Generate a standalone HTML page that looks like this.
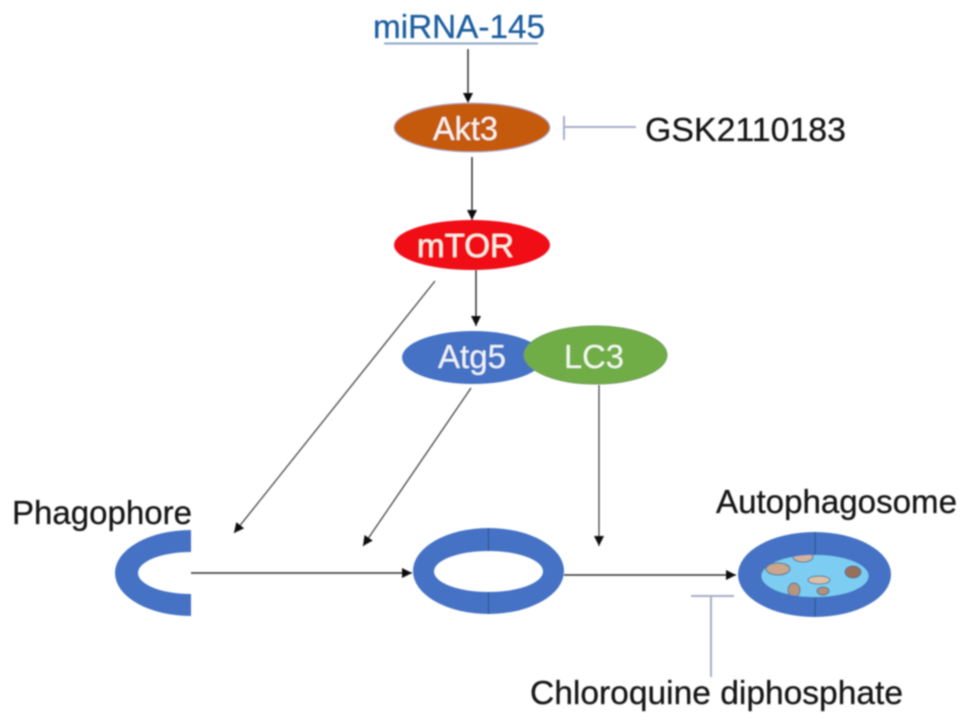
<!DOCTYPE html>
<html>
<head>
<meta charset="utf-8">
<style>
html,body{margin:0;padding:0;background:#fff;width:969px;height:724px;overflow:hidden}
svg{display:block}
text{font-family:"Liberation Sans",sans-serif;font-size:33px;fill:#151515;stroke:#151515;stroke-width:.3px}
</style>
</head>
<body>
<svg width="969" height="724" viewBox="0 0 969 724" xmlns="http://www.w3.org/2000/svg">
<defs>
<marker id="a" markerUnits="userSpaceOnUse" markerWidth="11" markerHeight="10" refX="10" refY="5" orient="auto">
<path d="M0 0L10 5L0 10z" fill="#111"/>
</marker>
<clipPath id="cl"><ellipse cx="815" cy="576" rx="53.500" ry="21"/></clipPath>
<filter id="b" x="-5%" y="-5%" width="110%" height="110%"><feGaussianBlur stdDeviation="0.7"/></filter>
</defs>
<g filter="url(#b)">
<!-- top text -->
<text x="373" y="38" textLength="172" lengthAdjust="spacingAndGlyphs" style="fill:#1f5fa0;stroke:#1f5fa0">miRNA-145</text>
<line x1="384" y1="43.500" x2="538" y2="43.500" stroke="#8fa6c6" stroke-width="2"/>
<line x1="468" y1="49" x2="468" y2="103" stroke="#333" stroke-width="1.500" marker-end="url(#a)"/>

<!-- Akt3 -->
<ellipse cx="472" cy="127.500" rx="78" ry="24.500" fill="#c55a11" stroke="#a9b4c9" stroke-width="1"/>
<text x="433" y="140" textLength="65" lengthAdjust="spacingAndGlyphs" style="fill:#fbf3ea;stroke:none">Akt3</text>
<line x1="564" y1="116" x2="564" y2="140" stroke="#a9aec9" stroke-width="2"/>
<line x1="564" y1="127" x2="636" y2="127" stroke="#a9aec9" stroke-width="2"/>
<text x="645" y="141" textLength="201" lengthAdjust="spacingAndGlyphs">GSK2110183</text>
<line x1="472" y1="157" x2="472" y2="220" stroke="#333" stroke-width="1.500" marker-end="url(#a)"/>

<!-- mTOR -->
<ellipse cx="472" cy="245" rx="78" ry="25" fill="#f00a14"/>
<text x="417" y="257" textLength="97" lengthAdjust="spacingAndGlyphs" style="fill:#fbf3ea;stroke:none">mTOR</text>
<line x1="476" y1="270" x2="476" y2="326" stroke="#333" stroke-width="1.500" marker-end="url(#a)"/>

<!-- Atg5 / LC3 -->
<ellipse cx="473" cy="357.500" rx="71" ry="26.500" fill="#4472c4"/>
<text x="438" y="368" textLength="68" lengthAdjust="spacingAndGlyphs" style="fill:#eef3fb;stroke:none">Atg5</text>
<ellipse cx="595.500" cy="355" rx="71.500" ry="29" fill="#70ad47" stroke="#6f9a58" stroke-width="1"/>
<text x="564" y="368" textLength="60" lengthAdjust="spacingAndGlyphs" style="fill:#f2f9ec;stroke:none">LC3</text>

<!-- diagonal arrows -->
<line x1="435" y1="281" x2="234" y2="533" stroke="#444" stroke-width="1.300" marker-end="url(#a)"/>
<line x1="471" y1="388" x2="363" y2="546" stroke="#444" stroke-width="1.300" marker-end="url(#a)"/>
<line x1="599" y1="385" x2="599" y2="546" stroke="#444" stroke-width="1.300" marker-end="url(#a)"/>

<!-- Phagophore -->
<text x="12" y="524" textLength="180" lengthAdjust="spacingAndGlyphs">Phagophore</text>
<path d="M191 530A76 43 0 0 0 191 616L191 594A53 21 0 0 1 191 552Z" fill="#4472c4"/>
<line x1="191" y1="573" x2="412" y2="573" stroke="#333" stroke-width="1.500" marker-end="url(#a)"/>

<!-- ring -->
<path fill-rule="evenodd" fill="#4472c4" d="M413 571A75.500 43 0 1 1 564 571A75.500 43 0 1 1 413 571ZM434 571.500A54.500 20.500 0 1 0 543 571.500A54.500 20.500 0 1 0 434 571.500Z"/>
<line x1="488.500" y1="528" x2="488.500" y2="551" stroke="#2f5597" stroke-width="1.200"/>
<line x1="488.500" y1="592" x2="488.500" y2="614" stroke="#2f5597" stroke-width="1.200"/>
<line x1="564" y1="575" x2="736" y2="575" stroke="#333" stroke-width="1.500" marker-end="url(#a)"/>

<!-- Autophagosome -->
<text x="716" y="513" textLength="241" lengthAdjust="spacingAndGlyphs">Autophagosome</text>
<ellipse cx="814.500" cy="574.500" rx="76.500" ry="42.500" fill="#4472c4"/>
<line x1="815" y1="532" x2="815" y2="617" stroke="#2f5597" stroke-width="1.200"/>
<ellipse cx="815" cy="576" rx="53.500" ry="21" fill="#7dcdf3"/>
<g clip-path="url(#cl)" stroke="#4f6f8c" stroke-width="1">
<ellipse cx="778" cy="569" rx="12" ry="6" fill="#c9a68c"/>
<ellipse cx="803" cy="557" rx="10" ry="5" fill="#d3b29b"/>
<ellipse cx="853" cy="572" rx="8" ry="6" fill="#96705a"/>
<ellipse cx="819" cy="580" rx="11" ry="4" fill="#dcc0a8"/>
<ellipse cx="794" cy="590" rx="6" ry="7" fill="#b8957c"/>
<ellipse cx="823" cy="591" rx="6" ry="4" fill="#b09078"/>
</g>

<!-- Chloroquine -->
<line x1="691" y1="596" x2="734" y2="596" stroke="#a9aec9" stroke-width="2"/>
<line x1="711" y1="596" x2="711" y2="677" stroke="#a9aec9" stroke-width="2"/>
<text x="530" y="704" textLength="373" lengthAdjust="spacingAndGlyphs">Chloroquine diphosphate</text>
</g>
</svg>
</body>
</html>
